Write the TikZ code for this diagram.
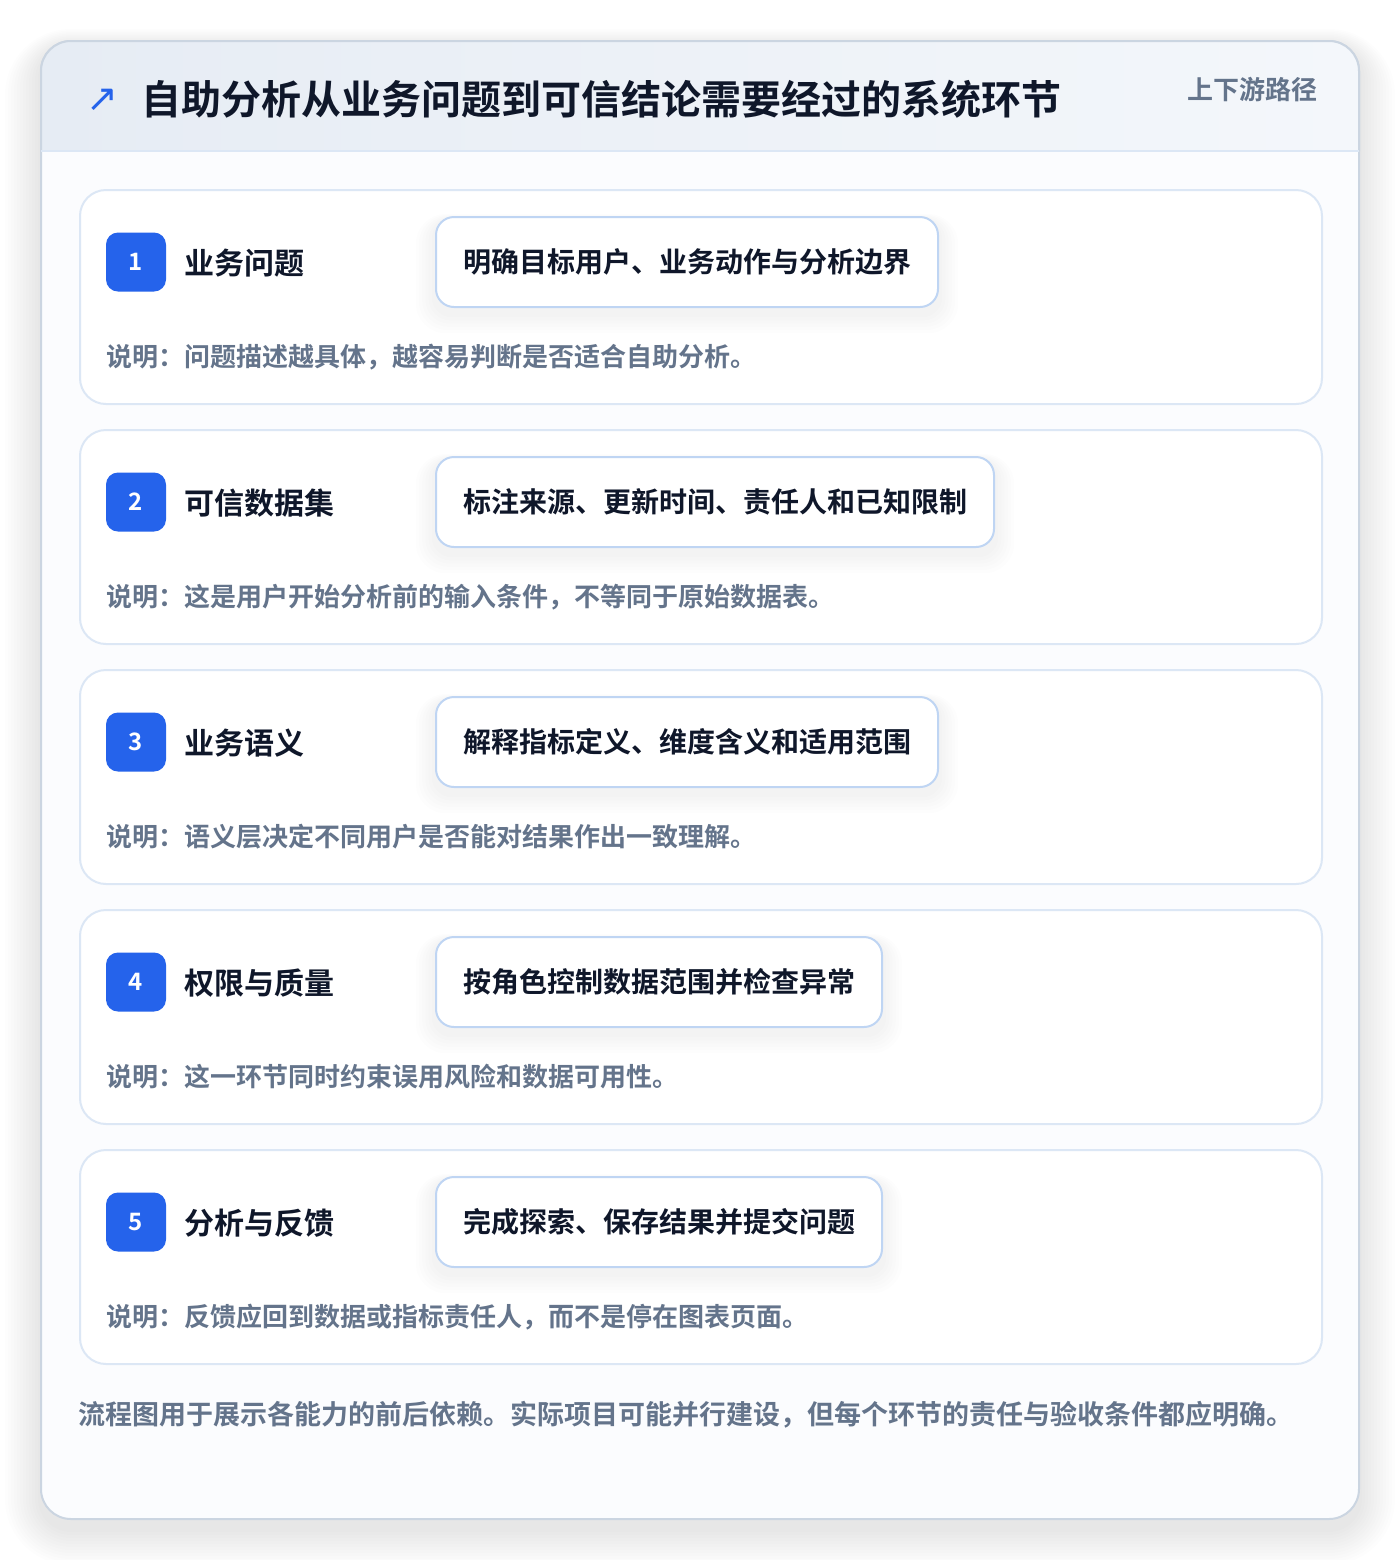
\documentclass[tikz,border=0pt]{standalone}
\usepackage{fontspec}
\setmainfont{Noto Sans CJK SC}[BoldFont={Noto Sans CJK SC Bold}]
\newfontfamily\symfont{DejaVu Sans}
\definecolor{ink}{HTML}{0F172A}
\definecolor{muted}{HTML}{64748B}
\definecolor{accent}{HTML}{2563EB}
\definecolor{cardline}{HTML}{DCE7F5}
\definecolor{boxline}{HTML}{BFD5F3}
\definecolor{outerline}{HTML}{CBD5E1}
\definecolor{headA}{HTML}{E6ECF4}
\definecolor{headB}{HTML}{F4F7FB}
\definecolor{panel}{HTML}{FBFCFE}
\definecolor{shadowc}{HTML}{334155}
\pgfdeclarelayer{back}
\pgfdeclarelayer{cards}
\pgfdeclarelayer{shad}
\pgfsetlayers{back,cards,shad,main}
\tikzset{
  outercard/.style={draw=outerline, line width=1pt, fill=panel, rounded corners=15pt},
  stepcard/.style={draw=cardline, line width=1pt, fill=white, rounded corners=13pt,
    minimum width=621pt, minimum height=107pt, inner sep=0pt, anchor=north west},
  badge/.style={fill=accent, rounded corners=6pt, minimum width=30pt, minimum height=29.5pt,
    inner sep=0pt, text=white, font=\bfseries\fontsize{12}{14}\selectfont},
  steplabel/.style={anchor=west, text=ink, inner sep=0pt, font=\bfseries\fontsize{15}{18}\selectfont},
  infobox/.style={draw=boxline, line width=1pt, fill=white, rounded corners=9pt, anchor=west,
    minimum height=45pt, inner xsep=13.5pt, inner ysep=0pt, text=ink,
    font=\bfseries\fontsize{14}{17}\selectfont},
  desc/.style={anchor=west, text=muted, inner sep=0pt, font=\bfseries\fontsize{13}{16}\selectfont},
}
\begin{document}
\begin{tikzpicture}[x=0.5pt,y=-0.5pt]
\useasboundingbox (0,0) rectangle (1400,1560);
\begin{pgfonlayer}{back}
\fill[white] (0,0) rectangle (1400,1560);
% soft outer shadow
\foreach \k in {1,...,12}{
  \fill[shadowc, opacity=0.009, rounded corners={15pt+\k*1.5pt}]
    (41-\k*3,41-\k*1.5+6) rectangle (1359+\k*3,1519+\k*3+10);
}
% outer card
\path[outercard] (41,41) rectangle (1359,1519);
\begin{scope}
  \clip[rounded corners=15pt] (41,41) rectangle (1359,1519);
  \shade[left color=headA, right color=headB] (41,41) rectangle (1359,151);
\end{scope}
\draw[outerline, line width=1pt, rounded corners=15pt] (41,151) -- (41,41) -- (1359,41) -- (1359,151);
\draw[cardline, line width=1pt] (41,151) -- (1359,151);
\end{pgfonlayer}
% title
\node[anchor=center, text=accent, font=\symfont\fontsize{19}{22}\selectfont, inner sep=0pt] (icon) at (102,100) {↗};
\node[anchor=west, text=ink, inner sep=0pt, font=\bfseries\fontsize{20}{24}\selectfont] (title) at (141,99) {自助分析从业务问题到可信结论需要经过的系统环节};
\node[anchor=east, text=muted, inner sep=0pt, font=\bfseries\fontsize{13}{16}\selectfont] (tag) at (1318,90) {上下游路径};
% steps
\foreach \i/\lab/\bx/\dsc in {
  1/业务问题/明确目标用户、业务动作与分析边界/说明：问题描述越具体，越容易判断是否适合自助分析。,
  2/可信数据集/标注来源、更新时间、责任人和已知限制/说明：这是用户开始分析前的输入条件，不等同于原始数据表。,
  3/业务语义/解释指标定义、维度含义和适用范围/说明：语义层决定不同用户是否能对结果作出一致理解。,
  4/权限与质量/按角色控制数据范围并检查异常/说明：这一环节同时约束误用风险和数据可用性。,
  5/分析与反馈/完成探索、保存结果并提交问题/说明：反馈应回到数据或指标责任人，而不是停在图表页面。}
{
  \pgfmathsetmacro{\ty}{189+240*(\i-1)}
  \begin{pgfonlayer}{cards}
  \node[stepcard] (card\i) at (79,\ty) {};
  \end{pgfonlayer}
  \node[badge] (badge\i) at (136,\ty+73) {\i};
  \node[steplabel] (label\i) at (184,\ty+74) {\lab};
  \node[infobox] (box\i) at (435,\ty+73) {\bx};
  \begin{pgfonlayer}{shad}
  \foreach \k in {1,...,6}{
    \fill[shadowc, opacity=0.006, rounded corners={9pt+\k*1pt}]
      ([xshift=-\k*1.6pt, yshift=-\k*1.6pt-3pt]box\i.south west) rectangle ([xshift=\k*1.6pt, yshift=\k*0.5pt-2pt]box\i.north east);
  }
  \end{pgfonlayer}
  \node[desc] (desc\i) at (106,\ty+168) {\dsc};
}
% footer
\node[anchor=west, text=muted, inner sep=0pt, font=\bfseries\fontsize{13.5}{16}\selectfont] (footer) at (78,1415) {流程图用于展示各能力的前后依赖。实际项目可能并行建设，但每个环节的责任与验收条件都应明确。};
\end{tikzpicture}
\end{document}
